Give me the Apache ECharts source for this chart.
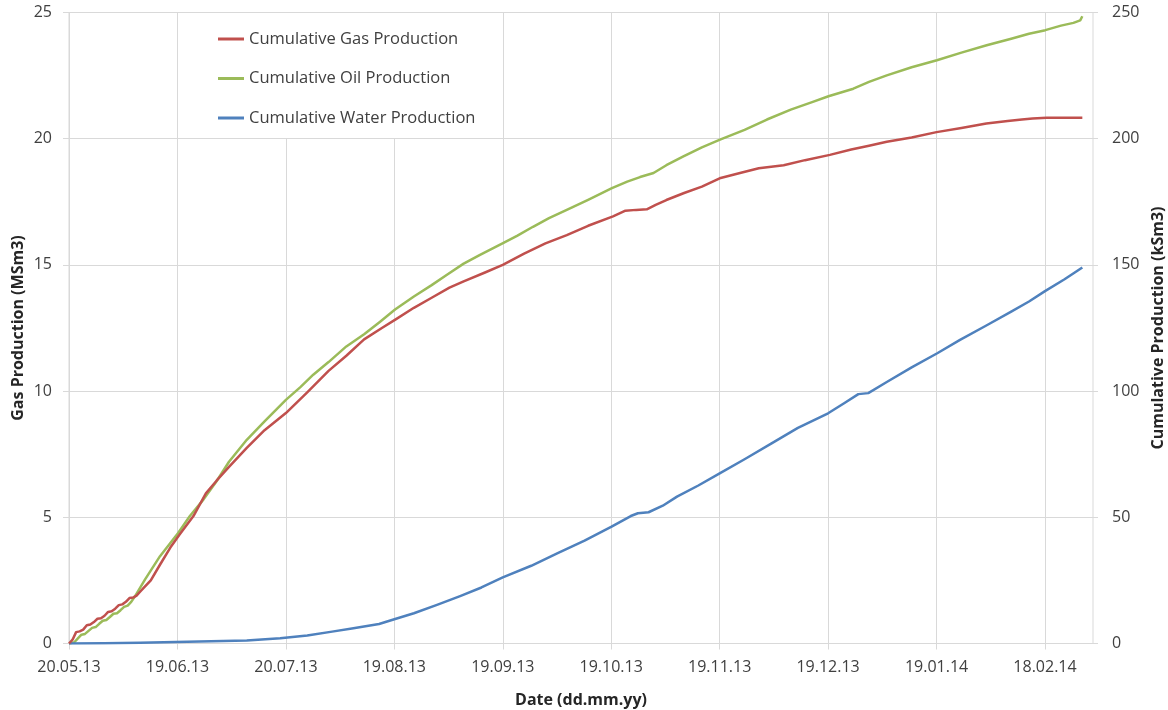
<!DOCTYPE html>
<html>
<head>
<meta charset="utf-8">
<title>Cumulative Production</title>
<script src="https://cdn.jsdelivr.net/npm/echarts@6/dist/echarts.min.js"></script>
<style>
  html, body { margin: 0; padding: 0; background: #ffffff; }
  #chart { width: 1168px; height: 710px; }
</style>
</head>
<body>
<div id="chart"></div>
<script>
// Date axis: days counted from 20.05.13, one labelled tick every 30.5 days
const tickDays = [0, 30.5, 61, 91.5, 122, 152.5, 183, 213.5, 244, 274.5];
const tickLabels = ['20.05.13', '19.06.13', '20.07.13', '19.08.13', '19.09.13',
                    '19.10.13', '19.11.13', '19.12.13', '19.01.14', '18.02.14'];

// Cumulative gas production, [day, MSm3]
const gasProduction = [
  [0, 0], [1, 0.15], [2, 0.45], [3, 0.48], [4, 0.55], [5, 0.72], [6, 0.75], [7, 0.85],
  [8, 0.98], [9, 1.0], [10, 1.1], [11, 1.25], [12, 1.28], [13, 1.38], [14, 1.52],
  [15, 1.55], [16, 1.65], [17, 1.8], [18, 1.82], [19, 1.9], [20, 2.05], [21, 2.2],
  [23, 2.5], [25.5, 3.1], [28.5, 3.8], [31, 4.3], [35, 5.05], [38.5, 5.95], [41.5, 6.45],
  [45, 7.0], [50, 7.75], [55, 8.45], [61, 9.13], [67, 9.95], [73, 10.8], [78, 11.4],
  [83, 12.05], [88, 12.5], [92, 12.85], [97, 13.3], [102, 13.7], [107, 14.1],
  [111, 14.35], [117, 14.7], [122, 15.0], [128, 15.45], [134, 15.85], [140, 16.18],
  [146, 16.55], [153, 16.92], [156.5, 17.15], [159.5, 17.18], [162.5, 17.2],
  [165, 17.38], [168, 17.57], [173, 17.85], [178, 18.1], [183, 18.43], [189, 18.65],
  [194, 18.83], [201, 18.95], [207, 19.15], [214, 19.36], [220, 19.57], [225, 19.72],
  [230, 19.88], [237, 20.05], [244, 20.26], [251, 20.42], [258, 20.6], [264, 20.7],
  [268, 20.76], [271, 20.8], [275, 20.83], [280, 20.83], [285, 20.83]
];

// Cumulative oil production, [day, kSm3]
const oilProduction = [
  [0, 0], [1.5, 0.5], [2.5, 2], [3.5, 3.5], [4.5, 3.8], [5.5, 5], [6.5, 6.2], [7.5, 6.5],
  [8.5, 7.8], [9.5, 9], [10.5, 9.3], [11.5, 10.5], [12.5, 11.8], [13.5, 12],
  [14.5, 13.2], [15.5, 14.5], [16.5, 15], [17.5, 16.5], [18.6, 18.8], [21.4, 25.4],
  [25.6, 34.6], [30.7, 43.8], [34, 50.5], [37.8, 57], [41.5, 64.3], [45, 72],
  [50, 80.7], [55, 88], [61, 96.5], [65, 101.5], [68.7, 106.5], [73, 111.5],
  [78, 117.7], [83, 122.5], [87.5, 127.5], [91.7, 132.3], [97, 137.5], [102, 142],
  [106.2, 146], [111, 150.5], [115.6, 154], [122.2, 158.7], [126, 161.5],
  [130.5, 165.1], [135, 168.5], [140, 171.8], [146, 175.8], [152.7, 180.4],
  [157, 183], [160.6, 184.8], [164.4, 186.4], [168, 189.5], [172.8, 193],
  [178, 196.6], [183.1, 199.6], [190, 203.5], [196.3, 207.6], [203, 211.5],
  [209, 214.5], [213.6, 216.8], [220.6, 219.8], [225, 222.5], [230, 225.1],
  [237, 228.3], [244.1, 231.1], [251, 234.1], [258.1, 237], [265, 239.6],
  [270, 241.6], [274.6, 243], [279, 244.8], [282.5, 245.9], [284.4, 246.9], [285, 248.5]
];

// Cumulative water production, [day, kSm3]
const waterProduction = [
  [0, 0], [10, 0.1], [20, 0.3], [30, 0.6], [40, 0.9], [50, 1.2], [59.4, 2.1], [67, 3.2],
  [74, 4.7], [80, 6.0], [87.2, 7.7], [91.5, 9.6], [97, 12.0], [103.5, 15.3],
  [110, 18.8], [116, 22.2], [122, 26.2], [130, 30.8], [137.3, 35.7], [145, 40.8],
  [152.6, 46.3], [158, 50.5], [160, 51.6], [163, 52.0], [167, 54.6], [171, 58.2],
  [177, 62.6], [183, 67.4], [190, 73.0], [197.6, 79.3], [205, 85.4], [213.5, 91.2],
  [218, 95.2], [222, 98.8], [224.8, 99.2], [230, 103.6], [237, 109.4], [244.2, 115.0],
  [250.6, 120.3], [258, 126], [265, 131.5], [270, 135.5], [274.5, 139.6],
  [280, 144.3], [285, 149]
];

const FONT = "'Open Sans', 'Noto Sans', sans-serif";
const GRID_COLOR = '#d9d9d9';
const LABEL_COLOR = '#404040';
const TITLE_COLOR = '#262626';

const chart = echarts.init(document.getElementById('chart'), null, { renderer: 'canvas' });

function lineSeries(name, axisIndex, data, color) {
  return {
    name: name,
    type: 'line',
    yAxisIndex: axisIndex,
    data: data,
    symbol: 'none',
    lineStyle: { color: color, width: 2.5, join: 'round' },
    itemStyle: { color: color }
  };
}

chart.setOption({
  animation: false,
  backgroundColor: '#ffffff',
  textStyle: { fontFamily: FONT },
  grid: {
    left: 69, right: 75, top: 12.5, bottom: 66.5,
    outerBoundsMode: 'none',
    containLabel: false,
    show: true, borderColor: GRID_COLOR, borderWidth: 1, backgroundColor: 'transparent'
  },
  legend: {
    orient: 'vertical',
    left: 199, top: 13,
    padding: [17, 16, 11, 19],
    itemGap: 21.5,
    itemWidth: 26, itemHeight: 3,
    icon: 'rect',
    backgroundColor: '#ffffff',
    textStyle: { fontFamily: FONT, fontSize: 16.5, color: LABEL_COLOR, lineHeight: 18 },
    data: ['Cumulative Gas Production', 'Cumulative Oil Production', 'Cumulative Water Production']
  },
  xAxis: {
    type: 'value',
    min: 0, max: 288,
    name: 'Date (dd.mm.yy)',
    nameLocation: 'middle',
    nameGap: 49,
    nameTextStyle: { fontFamily: FONT, fontWeight: 'bold', fontSize: 16, color: TITLE_COLOR },
    axisLine: { show: true, lineStyle: { color: GRID_COLOR, width: 1 } },
    axisTick: { show: true, length: 6, customValues: tickDays, lineStyle: { color: GRID_COLOR } },
    axisLabel: {
      customValues: tickDays,
      margin: 16,
      fontFamily: FONT, fontSize: 16, color: LABEL_COLOR,
      formatter: function (v) {
        const i = tickDays.indexOf(v);
        return i >= 0 ? tickLabels[i] : '';
      }
    },
    splitLine: { show: true, lineStyle: { color: GRID_COLOR, width: 1 } }
  },
  yAxis: [
    {
      type: 'value',
      min: 0, max: 25, interval: 5,
      name: 'Gas Production (MSm3)',
      nameLocation: 'middle',
      nameGap: 43,
      nameMoveOverlap: false,
      nameTextStyle: { fontFamily: FONT, fontWeight: 'bold', fontSize: 16, color: TITLE_COLOR },
      axisLine: { show: false },
      axisTick: { show: true, length: 6, lineStyle: { color: GRID_COLOR } },
      axisLabel: { margin: 17, fontFamily: FONT, fontSize: 16, color: LABEL_COLOR },
      splitLine: { show: true, lineStyle: { color: GRID_COLOR, width: 1 } }
    },
    {
      type: 'value',
      position: 'right',
      min: 0, max: 250, interval: 50,
      name: 'Cumulative Production (kSm3)',
      nameLocation: 'middle',
      nameGap: 57,
      nameTextStyle: { fontFamily: FONT, fontWeight: 'bold', fontSize: 16, color: TITLE_COLOR },
      axisLine: { show: false },
      axisTick: { show: true, length: 5, lineStyle: { color: GRID_COLOR } },
      axisLabel: { margin: 19, fontFamily: FONT, fontSize: 16, color: LABEL_COLOR },
      splitLine: { show: false }
    }
  ],
  series: [
    lineSeries('Cumulative Oil Production', 1, oilProduction, '#9bbb59'),
    lineSeries('Cumulative Water Production', 1, waterProduction, '#4f81bd'),
    lineSeries('Cumulative Gas Production', 0, gasProduction, '#c0504d')
  ]
});
</script>
</body>
</html>
